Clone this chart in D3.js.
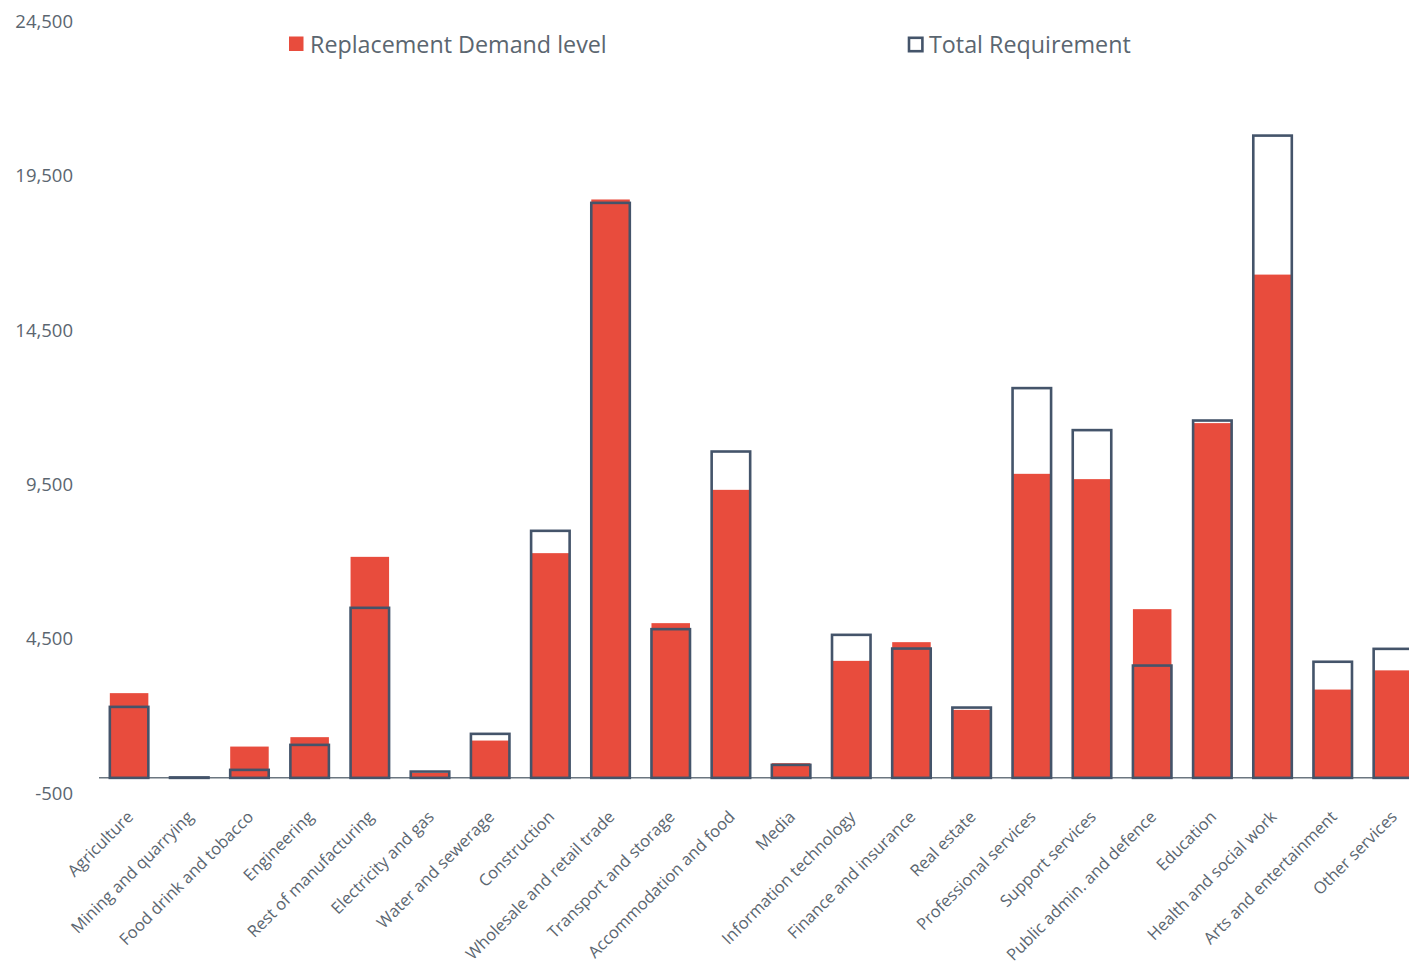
<!DOCTYPE html>
<html>
<head>
<meta charset="utf-8">
<script src="https://cdn.jsdelivr.net/npm/d3@7"></script>
<style>
  html, body { margin: 0; padding: 0; background: #ffffff; }
  svg { display: block; font-family: "Open Sans", "Noto Sans", sans-serif; }
</style>
</head>
<body>
<svg id="chart" width="1409" height="964"></svg>
<script>
// Sectors along the x axis
const categories = [
  "Agriculture", "Mining and quarrying", "Food drink and tobacco", "Engineering",
  "Rest of manufacturing", "Electricity and gas", "Water and sewerage", "Construction",
  "Wholesale and retail trade", "Transport and storage", "Accommodation and food", "Media",
  "Information technology", "Finance and insurance", "Real estate", "Professional services",
  "Support services", "Public admin. and defence", "Education", "Health and social work",
  "Arts and entertainment", "Other services"
];

// Replacement demand per sector (filled bars)
const replacementDemand = [
  2745, 0, 1014, 1319, 7161, 160, 1209, 7281, 18740, 5013, 9332, 476,
  3791, 4397, 2203, 9851, 9679, 5466, 11494, 16306, 2861, 3483
];

// Total requirement per sector (outlined bars)
const totalRequirement = [
  2300, 15, 259, 1069, 5509, 204, 1426, 8004, 18630, 4818, 10574, 421,
  4634, 4190, 2278, 12628, 11267, 3639, 11578, 20810, 3762, 4180
];

const yTicks = [-500, 4500, 9500, 14500, 19500, 24500];

const seriesNames = ["Replacement Demand level", "Total Requirement"];

const RED = "#e84c3d";
const OUTLINE = "#44546a";
const TEXT = "#5b6670";

const svg = d3.select("#chart");

const x = d3.scaleBand()
  .domain(categories)
  .range([99, 1423])
  .paddingInner(0.36)
  .paddingOuter(0.18);

const y = d3.scaleLinear()
  .domain([-500, 24500])
  .range([793.3, 21.7]);

// Thousands separator with a plain hyphen for negatives
const fmt = d => d3.format(",")(d).replace("\u2212", "-");

// Y tick labels (no axis line)
const yAxis = d3.axisLeft(y)
  .tickValues(yTicks)
  .tickFormat(fmt)
  .tickSize(0)
  .tickPadding(0);

const yg = svg.append("g")
  .attr("transform", "translate(73,0)")
  .call(yAxis);
yg.select(".domain").remove();
yg.selectAll("text")
  .attr("fill", TEXT)
  .attr("font-size", "18.5px")
  .attr("font-family", "'Open Sans', sans-serif");

// Filled bars
svg.append("g")
  .selectAll("rect")
  .data(categories)
  .join("rect")
  .attr("x", d => x(d))
  .attr("width", x.bandwidth())
  .attr("y", (d, i) => y(Math.max(0, replacementDemand[i])))
  .attr("height", (d, i) => Math.abs(y(replacementDemand[i]) - y(0)))
  .attr("fill", RED);

// Baseline at zero
svg.append("line")
  .attr("x1", 99)
  .attr("x2", 1409)
  .attr("y1", y(0))
  .attr("y2", y(0))
  .attr("stroke", "#6b7680")
  .attr("stroke-width", 1.5);

// Outlined bars drawn on top
svg.append("g")
  .selectAll("rect")
  .data(categories)
  .join("rect")
  .attr("x", d => x(d))
  .attr("width", x.bandwidth())
  .attr("y", (d, i) => y(Math.max(0, totalRequirement[i])))
  .attr("height", (d, i) => Math.abs(y(totalRequirement[i]) - y(0)))
  .attr("fill", "none")
  .attr("stroke", OUTLINE)
  .attr("stroke-width", 2.6);

// X axis category labels, rotated
const xAxis = d3.axisBottom(x).tickSize(0).tickPadding(0);
const xg = svg.append("g")
  .attr("transform", `translate(0,${y(0)})`)
  .call(xAxis);
xg.select(".domain").remove();
xg.selectAll("text")
  .attr("fill", TEXT)
  .attr("font-size", "16.5px")
  .attr("font-family", "'Open Sans', sans-serif")
  .attr("text-anchor", "end")
  .attr("dy", "0.35em")
  .attr("transform", "translate(1,36) rotate(-45)");

// Legend
const legend = svg.append("g");
legend.append("rect")
  .attr("x", 289).attr("y", 36.5)
  .attr("width", 14.5).attr("height", 14.5)
  .attr("fill", RED);
legend.append("text")
  .attr("x", 310).attr("y", 52.5)
  .attr("fill", TEXT)
  .attr("font-size", "23.3px")
  .text(seriesNames[0]);

legend.append("rect")
  .attr("x", 909).attr("y", 37.8)
  .attr("width", 13.4).attr("height", 13.4)
  .attr("fill", "none")
  .attr("stroke", OUTLINE)
  .attr("stroke-width", 2.6);
legend.append("text")
  .attr("x", 929).attr("y", 52.5)
  .attr("fill", TEXT)
  .attr("font-size", "23.3px")
  .text(seriesNames[1]);
</script>
</body>
</html>
